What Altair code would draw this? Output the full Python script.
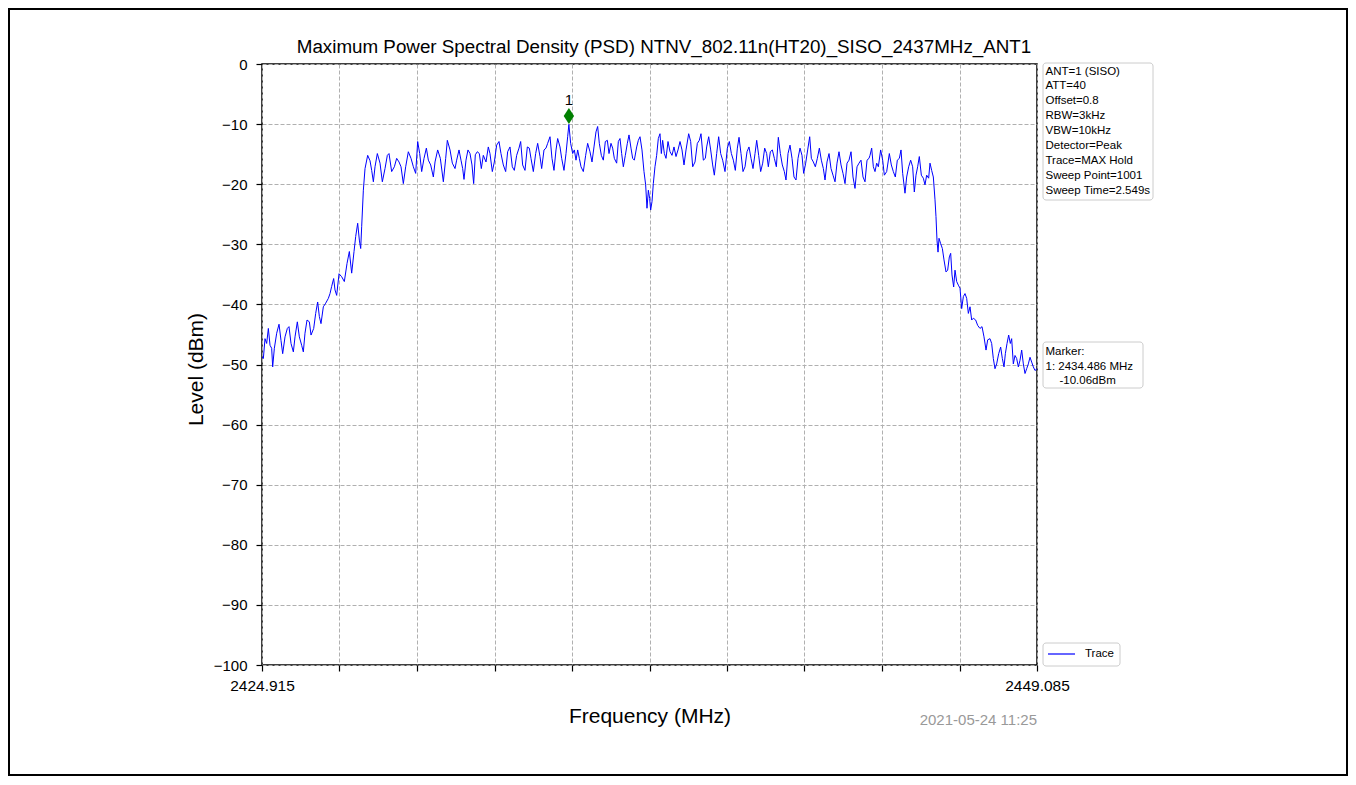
import altair as alt
import pandas as pd

FONT = "Liberation Sans"

# ---------------- data ----------------
seg_a_freq = [
    2424.915, 2424.957, 2425.009, 2425.061, 2425.113, 2425.165, 2425.217, 2425.248, 2425.300, 2425.373,
    2425.446, 2425.508, 2425.560, 2425.633, 2425.705, 2425.757, 2425.820, 2425.893, 2425.945, 2426.017,
    2426.080, 2426.152, 2426.204, 2426.256, 2426.319, 2426.392, 2426.444, 2426.527, 2426.589, 2426.651,
    2426.703, 2426.755, 2426.828, 2426.901, 2426.984, 2427.036, 2427.088, 2427.150, 2427.192, 2427.244,
    2427.317, 2427.400, 2427.483, 2427.566, 2427.639, 2427.712, 2427.785, 2427.837, 2427.899, 2427.951,
    2427.993, 2428.024, 2428.076, 2428.128, 2428.211, 2428.284, 2428.336, 2428.388, 2428.440, 2428.512,
    2428.596, 2428.668, 2428.751, 2428.824, 2428.876, 2428.959, 2429.043, 2429.115, 2429.188, 2429.250,
    2429.323, 2429.396, 2429.479, 2429.562, 2429.635, 2429.708, 2429.770, 2429.833, 2429.895, 2429.968,
    2430.041, 2430.103, 2430.176, 2430.259, 2430.311, 2430.394, 2430.477, 2430.571, 2430.644, 2430.695,
    2430.779, 2430.851, 2430.935,
]
seg_a_level = [
    -48.7, -49.0, -45.7, -46.5, -44.0, -46.8, -47.3, -50.4, -47.3, -44.8,
    -43.3, -46.0, -48.2, -45.4, -44.0, -43.7, -46.5, -47.9, -45.4, -42.9,
    -45.4, -46.8, -47.9, -44.8, -42.6, -42.9, -45.1, -44.0, -41.5, -39.6,
    -42.0, -43.2, -40.4, -39.8, -39.0, -38.2, -37.0, -35.7, -37.6, -38.5,
    -34.9, -35.4, -36.2, -33.2, -31.2, -34.8, -31.2, -28.7, -26.5, -29.3,
    -30.7, -27.0, -21.0, -17.4, -15.2, -16.1, -17.7, -19.6, -17.1, -14.9,
    -16.5, -19.6, -17.4, -15.2, -14.9, -17.9, -17.1, -15.7, -16.3, -17.1,
    -19.9, -17.1, -14.6, -15.7, -17.1, -18.2, -12.9, -14.9, -17.9, -15.7,
    -14.0, -16.0, -16.8, -18.8, -16.3, -14.3, -15.7, -19.6, -15.7, -12.7,
    -14.3, -16.5, -17.4,
]

seg_b_freq = [
    2430.986, 2431.059, 2431.121, 2431.173, 2431.215, 2431.277, 2431.339, 2431.402, 2431.464, 2431.516,
    2431.568, 2431.630, 2431.693, 2431.755, 2431.817, 2431.901, 2431.973, 2432.025, 2432.098, 2432.161,
    2432.233, 2432.306, 2432.368, 2432.441, 2432.514, 2432.576, 2432.649, 2432.722, 2432.784, 2432.857,
    2432.930, 2432.982, 2433.044, 2433.117, 2433.190, 2433.252, 2433.304, 2433.377, 2433.450, 2433.512,
    2433.585, 2433.637, 2433.710, 2433.772, 2433.824, 2433.897, 2433.959, 2434.021, 2434.084, 2434.136,
    2434.209, 2434.261, 2434.333, 2434.396, 2434.448, 2434.486, 2434.541, 2434.604, 2434.656, 2434.708,
    2434.760, 2434.812, 2434.864, 2434.936, 2435.009, 2435.071, 2435.144, 2435.207, 2435.269, 2435.331,
    2435.383, 2435.435, 2435.498, 2435.560, 2435.622, 2435.685, 2435.737, 2435.799, 2435.851, 2435.903,
    2435.976, 2436.028, 2436.080, 2436.132, 2436.184, 2436.246, 2436.309, 2436.361, 2436.423, 2436.475,
    2436.527, 2436.600, 2436.652, 2436.704, 2436.766, 2436.828, 2436.880, 2436.922, 2436.964, 2437.005,
    2437.036, 2437.078, 2437.119, 2437.171, 2437.223, 2437.275, 2437.327, 2437.369, 2437.410,
]
seg_b_level = [
    -16.0, -14.3, -16.0, -17.4, -19.2, -16.0, -14.3, -14.9, -16.8, -19.9,
    -15.1, -14.6, -14.9, -17.4, -15.2, -16.3, -13.8, -14.9, -17.9, -16.3,
    -13.5, -12.9, -14.9, -16.8, -17.9, -14.6, -13.8, -17.1, -17.7, -15.2,
    -14.0, -12.9, -16.8, -17.7, -13.8, -14.0, -15.7, -17.9, -14.9, -13.2,
    -15.4, -17.4, -14.3, -14.0, -13.2, -12.1, -15.7, -17.7, -14.3, -12.4,
    -13.8, -15.7, -17.7, -14.9, -12.1, -10.06, -13.2, -14.9, -14.3, -16.0,
    -14.3, -15.7, -17.1, -17.9, -15.2, -13.2, -14.6, -16.3, -13.8, -11.3,
    -10.4, -13.2, -15.2, -16.0, -12.9, -12.7, -14.9, -13.2, -14.0, -15.7,
    -16.5, -12.9, -12.4, -14.9, -17.1, -15.2, -13.2, -11.8, -14.0, -15.7,
    -16.0, -13.8, -12.7, -12.1, -14.3, -17.9, -20.1, -24.0, -21.0, -22.4,
    -24.3, -22.9, -19.9, -17.1, -15.2, -12.4, -11.6, -14.9, -12.7,
]

seg_c_freq = [
    2437.463, 2437.515, 2437.577, 2437.640, 2437.702, 2437.764, 2437.827, 2437.889, 2437.952, 2438.014,
    2438.076, 2438.139, 2438.222, 2438.284, 2438.347, 2438.419, 2438.492, 2438.554, 2438.606, 2438.679,
    2438.742, 2438.783, 2438.846, 2438.908, 2438.970, 2439.022, 2439.095, 2439.157, 2439.220, 2439.282,
    2439.355, 2439.428, 2439.490, 2439.553, 2439.615, 2439.677, 2439.740, 2439.792, 2439.854, 2439.916,
    2439.979, 2440.041, 2440.103, 2440.166, 2440.228, 2440.291, 2440.343, 2440.405, 2440.467, 2440.530,
    2440.592, 2440.654, 2440.706, 2440.769, 2440.831, 2440.894, 2440.956, 2441.018, 2441.081, 2441.143,
    2441.205, 2441.257, 2441.320, 2441.382, 2441.445, 2441.507, 2441.569, 2441.632, 2441.694, 2441.756,
    2441.808, 2441.871, 2441.933, 2441.996, 2442.048, 2442.110, 2442.172, 2442.235, 2442.297, 2442.359,
    2442.422, 2442.474, 2442.536, 2442.599, 2442.661, 2442.723, 2442.786, 2442.848, 2442.910, 2442.973,
    2443.035, 2443.098, 2443.160, 2443.222, 2443.285, 2443.347, 2443.409, 2443.472, 2443.534, 2443.596,
    2443.659, 2443.721, 2443.784, 2443.846,
]
seg_c_level = [
    -14.9, -15.7, -12.9, -14.6, -15.2, -13.8, -15.4, -14.3, -12.9, -14.3,
    -16.8, -14.3, -11.6, -12.9, -17.1, -16.3, -13.2, -12.7, -11.6, -16.0,
    -15.7, -13.8, -12.1, -14.3, -16.8, -18.5, -14.9, -12.1, -14.9, -16.0,
    -17.9, -14.0, -12.9, -14.9, -16.0, -17.7, -14.0, -12.2, -14.9, -17.9,
    -17.1, -14.6, -13.8, -15.7, -17.4, -14.9, -12.7, -15.2, -17.9, -16.5,
    -14.0, -14.9, -17.1, -14.6, -14.3, -15.7, -17.1, -12.2, -14.9, -16.8,
    -17.9, -19.3, -14.9, -13.5, -15.7, -18.8, -19.3, -15.7, -14.0, -15.2,
    -18.2, -16.5, -14.3, -12.1, -15.7, -16.3, -17.1, -15.7, -14.0, -16.0,
    -17.4, -19.3, -16.3, -14.9, -17.4, -18.5, -19.6, -16.5, -14.6, -16.8,
    -18.2, -19.9, -16.5, -16.0, -14.6, -18.8, -20.7, -17.1, -16.5, -16.0,
    -18.8, -19.6, -16.0, -15.7,
]

seg_d_freq = [
    2443.877, 2443.929, 2443.981, 2444.033, 2444.085, 2444.137, 2444.209, 2444.272, 2444.324, 2444.397,
    2444.480, 2444.542, 2444.604, 2444.667, 2444.729, 2444.792, 2444.844, 2444.896, 2444.968, 2445.020,
    2445.083, 2445.145, 2445.207, 2445.259, 2445.311, 2445.363, 2445.415, 2445.478, 2445.540, 2445.592,
    2445.644, 2445.706, 2445.748, 2445.800, 2445.852, 2445.904, 2445.935, 2445.966, 2445.998, 2446.029,
    2446.081, 2446.133, 2446.185, 2446.247, 2446.299, 2446.351, 2446.393, 2446.434, 2446.486, 2446.528,
    2446.580, 2446.632, 2446.684, 2446.736, 2446.788, 2446.840, 2446.892, 2446.944, 2446.996, 2447.048,
    2447.100, 2447.172, 2447.235, 2447.307, 2447.370, 2447.432, 2447.495, 2447.547, 2447.619, 2447.671,
    2447.723, 2447.775, 2447.827, 2447.890, 2447.952, 2448.004, 2448.056, 2448.098, 2448.150, 2448.202,
    2448.253, 2448.295, 2448.347, 2448.399, 2448.451, 2448.503, 2448.555, 2448.607, 2448.659, 2448.711,
    2448.763, 2448.815, 2448.867, 2448.919, 2448.971, 2449.023, 2449.085,
]
seg_d_level = [
    -15.2, -14.0, -17.1, -17.9, -16.5, -17.1, -14.3, -16.0, -18.5, -17.9,
    -14.9, -16.8, -17.9, -18.8, -16.0, -15.7, -14.3, -18.2, -21.5, -18.8,
    -17.1, -16.0, -17.1, -21.3, -18.5, -17.1, -15.4, -18.5, -19.0, -20.1,
    -18.5, -19.0, -16.5, -17.7, -18.8, -22.6, -25.4, -29.3, -31.3, -29.0,
    -29.9, -30.7, -32.6, -34.6, -34.3, -32.1, -31.5, -35.1, -37.1, -34.3,
    -36.2, -36.8, -37.3, -40.7, -38.7, -38.2, -39.0, -41.5, -40.4, -42.6,
    -42.3, -42.6, -43.5, -44.0, -43.7, -45.4, -47.6, -45.9, -45.7, -46.5,
    -49.0, -50.7, -49.9, -48.2, -47.1, -49.0, -50.4, -48.2, -46.5, -45.1,
    -46.5, -45.7, -49.9, -48.5, -49.0, -50.4, -49.3, -47.6, -49.9, -51.5,
    -50.7, -49.9, -48.8, -49.6, -50.4, -51.0, -50.7,
]

x_ticks = [2424.915, 2427.332, 2429.749, 2432.166, 2434.583, 2437.000,
           2439.417, 2441.834, 2444.251, 2446.668, 2449.085]
x_domain = [2424.915, 2449.085]
y_ticks = [-100, -90, -80, -70, -60, -50, -40, -30, -20, -10, 0]
y_domain = [-100, 0]

title_text = "Maximum Power Spectral Density (PSD) NTNV_802.11n(HT20)_SISO_2437MHz_ANT1"
info_lines = ["ANT=1 (SISO)", "ATT=40", "Offset=0.8", "RBW=3kHz", "VBW=10kHz",
              "Detector=Peak", "Trace=MAX Hold", "Sweep Point=1001", "Sweep Time=2.549s"]
marker_names = ["1"]
marker_freq = [2434.486]
marker_level = [-10.06]
marker_head_lines = ["Marker:", "1: 2434.486 MHz"]
marker_value_line = "-10.06dBm"
series_names = ["Trace"]
timestamp = "2021-05-24 11:25"

# ---------------- build tables ----------------
freq = seg_a_freq + seg_b_freq + seg_c_freq + seg_d_freq
level = seg_a_level + seg_b_level + seg_c_level + seg_d_level
n = min(len(freq), len(level))
trace_df = pd.DataFrame({"freq": freq[:n], "level": level[:n], "series": [series_names[0]] * n})
marker_df = pd.DataFrame({"freq": marker_freq, "level": marker_level, "name": marker_names})
one = pd.DataFrame({"k": [0]})

x_scale = alt.Scale(domain=x_domain, nice=False, zero=False)
y_scale = alt.Scale(domain=y_domain, nice=False, zero=False)

x_axis = alt.Axis(
    values=x_ticks,
    labelExpr="(datum.value < 2425 || datum.value > 2449) ? format(datum.value, '.3f') : ''",
    title="Frequency (MHz)", grid=True, gridDash=[4, 2], gridColor="#b0b0b0", gridWidth=1,
    tickSize=6, tickColor="black", tickWidth=1.2, domain=False,
    labelFont=FONT, labelFontSize=15.5, labelColor="black", labelPadding=7,
    labelOverlap=False, labelFlush=False, labelBound=False,
    titleFont=FONT, titleFontSize=21, titleFontWeight="normal", titleColor="black",
    titleY=51, titleBaseline="middle",
)
y_axis = alt.Axis(
    values=y_ticks,
    labelExpr="datum.value < 0 ? '\u2212' + format(-datum.value, 'd') : '0'",
    title="Level (dBm)", grid=True, gridDash=[4, 2], gridColor="#b0b0b0", gridWidth=1,
    tickSize=6, tickColor="black", tickWidth=1.2, domain=False,
    labelFont=FONT, labelFontSize=15, labelColor="black", labelPadding=9,
    labelOverlap=False, labelFlush=False,
    titleFont=FONT, titleFontSize=21, titleFontWeight="normal", titleColor="black",
    titleX=-66, titleY=305, titleAngle=270, titleBaseline="middle", titleAlign="center",
)

trace = alt.Chart(trace_df).mark_line(color="#0000ff", strokeWidth=1, clip=True).encode(
    x=alt.X("freq:Q", scale=x_scale, axis=x_axis),
    y=alt.Y("level:Q", scale=y_scale, axis=y_axis),
)

marker = alt.Chart(marker_df).mark_point(
    shape="M0,-1L0.65,0L0,1L-0.65,0Z", filled=True, color="#008000", opacity=1,
    size=256, yOffset=-8.5,
).encode(x=alt.X("freq:Q", scale=x_scale), y=alt.Y("level:Q", scale=y_scale))

marker_label = alt.Chart(marker_df).mark_text(
    font=FONT, fontSize=15, color="black", baseline="middle", align="center", yOffset=-24,
).encode(x=alt.X("freq:Q", scale=x_scale), y=alt.Y("level:Q", scale=y_scale), text="name:N")

title = alt.Chart(one).mark_text(
    font=FONT, fontSize=18.8, color="black", align="center", baseline="alphabetic", clip=False
).encode(x=alt.value(402), y=alt.value(-11.5), text=alt.value(title_text))

# info box
info_box = alt.Chart(one).mark_rect(
    fill="white", stroke="#cccccc", strokeWidth=1, cornerRadius=3, clip=False
).encode(x=alt.value(781), x2=alt.value(891), y=alt.value(-1), y2=alt.value(136))
info_text = alt.Chart(one).mark_text(
    font=FONT, fontSize=11.5, color="black", align="left", baseline="alphabetic",
    lineHeight=14.9, clip=False,
).encode(x=alt.value(783.5), y=alt.value(10.5), text=alt.value(info_lines))

# marker box
mk_box = alt.Chart(one).mark_rect(
    fill="white", stroke="#cccccc", strokeWidth=1, cornerRadius=3, clip=False
).encode(x=alt.value(781), x2=alt.value(881), y=alt.value(278), y2=alt.value(324))
mk_text = alt.Chart(one).mark_text(
    font=FONT, fontSize=11.5, color="black", align="left", baseline="alphabetic",
    lineHeight=14.5, clip=False,
).encode(x=alt.value(783.5), y=alt.value(291), text=alt.value(marker_head_lines))
mk_value = alt.Chart(one).mark_text(
    font=FONT, fontSize=11.5, color="black", align="left", baseline="alphabetic", clip=False,
).encode(x=alt.value(797.5), y=alt.value(320), text=alt.value(marker_value_line))

# legend box
lg_box = alt.Chart(one).mark_rect(
    fill="white", stroke="#cccccc", strokeWidth=1, cornerRadius=3, clip=False
).encode(x=alt.value(781), x2=alt.value(858), y=alt.value(579), y2=alt.value(602))
lg_line = alt.Chart(one).mark_rule(color="#0000ff", strokeWidth=1.2, clip=False).encode(
    x=alt.value(786), x2=alt.value(813), y=alt.value(590)
)
lg_text = alt.Chart(one).mark_text(
    font=FONT, fontSize=11.5, color="black", align="left", baseline="middle", clip=False
).encode(x=alt.value(823), y=alt.value(590), text=alt.value(series_names[0]))

stamp = alt.Chart(one).mark_text(
    font=FONT, fontSize=15, color="#999999", align="right", baseline="alphabetic", clip=False
).encode(x=alt.value(775), y=alt.value(661), text=alt.value(timestamp))

frame = alt.Chart(one).mark_rect(
    fillOpacity=0, stroke="black", strokeWidth=2, clip=False
).encode(x=alt.value(-253), x2=alt.value(1085), y=alt.value(-55), y2=alt.value(711))

chart = alt.layer(
    trace, marker, marker_label, title, info_box, info_text, mk_box, mk_text, mk_value,
    lg_box, lg_line, lg_text, stamp, frame,
).properties(
    width=775, height=601,
    autosize=alt.AutoSizeParams(type="none"),
    padding={"left": 254, "top": 56, "right": 311, "bottom": 111},
    background="white",
).configure_view(stroke="black", strokeWidth=1.5)

chart.save("out.html", embed_options={"renderer": "svg", "actions": False})
